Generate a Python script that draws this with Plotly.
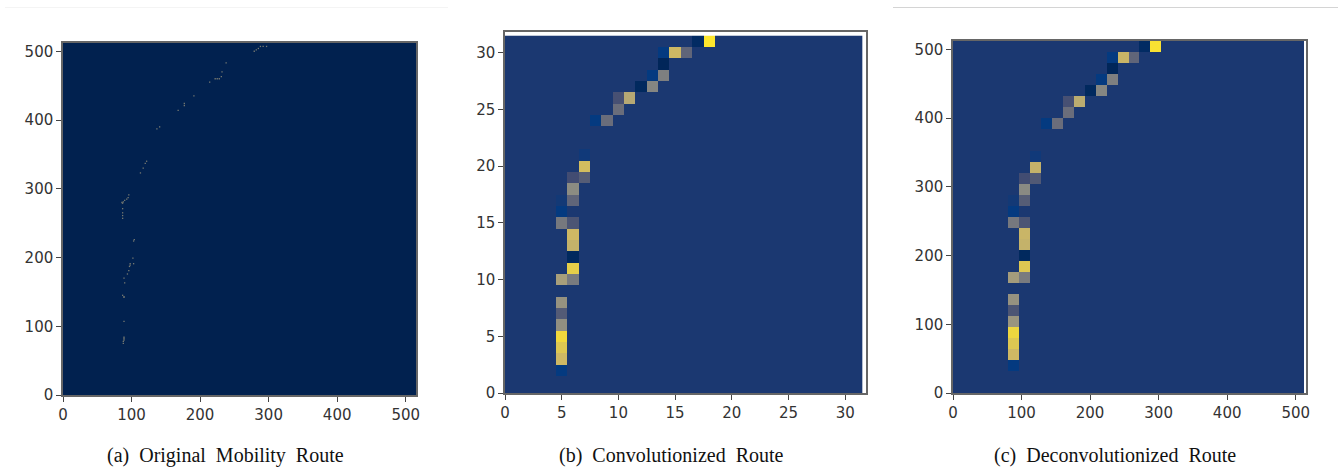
import plotly.graph_objects as go

GRID = 32
FULL = 512
CELL = FULL // GRID

# Panel (a): individual route points (x, y)
route_x = [88, 88, 89, 89, 89, 89, 89, 89, 87, 90, 89, 94, 96, 97, 98, 98, 103, 102, 103, 104,
           87, 87, 87, 87, 87, 86, 88, 90, 93, 95, 96, 113, 117, 120, 122, 137, 141, 168, 177,
           177, 191, 214, 222, 225, 228, 231, 232, 238, 279, 282, 285, 288, 292, 297]
route_y = [75, 78, 80, 82, 84, 107, 142, 143, 145, 163, 170, 176, 181, 187, 189, 191, 191, 199,
           224, 226, 257, 261, 265, 271, 279, 280, 281, 283, 285, 287, 291, 323, 330, 337, 340,
           387, 390, 414, 421, 424, 435, 455, 460, 460, 460, 463, 470, 483, 500, 502, 504, 507, 507, 507]

# Panels (b) and (c): active cells of the 32x32 grid
cell_col = [5, 5, 5, 5, 5, 5, 5, 5, 6, 6, 6, 6, 6, 5, 6, 5, 6, 5, 6, 6, 6, 7, 7, 7,
            8, 9, 10, 10, 11, 12, 13, 13, 14, 14, 14, 15, 16, 17, 18]
cell_row = [2, 3, 4, 5, 6, 7, 8, 10, 10, 11, 12, 13, 14, 15, 15, 16, 17, 17, 18, 19, 19, 19, 20, 21,
            24, 24, 25, 26, 26, 27, 27, 28, 28, 29, 30, 30, 30, 31, 31]
conv_val = [0.10, 0.84, 0.90, 0.97, 0.58, 0.33, 0.60, 0.68, 0.48, 0.93, 0.03, 0.80, 0.84, 0.47, 0.30,
            0.10, 0.38, 0.12, 0.56, 0.26, 0.26, 0.34, 0.86, 0.115,
            0.10, 0.42, 0.42, 0.28, 0.74, 0.03, 0.53, 0.10, 0.50, 0.02, 0.10, 0.84, 0.38, 0.04, 1.00]
deconv_val = [0.10, 0.84, 0.90, 0.96, 0.62, 0.30, 0.60, 0.66, 0.48, 0.90, 0.03, 0.80, 0.82, 0.47, 0.30,
              0.10, 0.34, 0.12, 0.55, 0.26, 0.26, 0.32, 0.80, 0.115,
              0.10, 0.42, 0.42, 0.28, 0.76, 0.03, 0.53, 0.10, 0.50, 0.02, 0.10, 0.82, 0.38, 0.04, 0.99]
BACKGROUND = 0.13

x_ticks_ab = [0, 100, 200, 300, 400, 500]
ticks_b = [0, 5, 10, 15, 20, 25, 30]
captions = ["(a)  Original  Mobility  Route", "(b)  Convolutionized  Route", "(c)  Deconvolutionized  Route"]

# Value -> colour, following the picture's cividis-like map
SCALE = [[0.00, "#00214f"], [0.10, "#043a80"], [0.13, "#1b3871"], [0.20, "#33406e"],
         [0.40, "#65697a"], [0.55, "#8a8a83"], [0.70, "#ada27a"], [0.85, "#d0ba62"],
         [0.97, "#f0d83c"], [1.00, "#fde62d"]]


def grid(values):
    z = [[BACKGROUND] * GRID for _ in range(GRID)]
    for c, r, v in zip(cell_col, cell_row, values):
        z[r][c] = v
    return z


def heat(values, coords, xa, ya):
    return go.Heatmap(z=grid(values), x=coords, y=coords, colorscale=SCALE, zmin=0, zmax=1,
                      showscale=False, xaxis=xa, yaxis=ya, xgap=0, ygap=0)


fig = go.Figure()
bg_a = [0, FULL + 3]
fig.add_trace(go.Heatmap(z=[[0, 0], [0, 0]], x=bg_a, y=bg_a, colorscale=[[0, "#01214f"], [1, "#01214f"]],
                         showscale=False, xaxis="x", yaxis="y"))
fig.add_trace(go.Scatter(x=route_x, y=route_y, mode="markers", xaxis="x", yaxis="y", opacity=0.7,
                         marker=dict(symbol="square", size=1.3, color="#a89f80", line=dict(width=0))))
fig.add_trace(heat(conv_val, list(range(GRID)), "x2", "y2"))
fig.add_trace(heat(deconv_val, [CELL * i + CELL / 2 for i in range(GRID)], "x3", "y3"))

W, H = 1338, 471
axis = dict(showgrid=False, zeroline=False, showline=True, linecolor="#666666", linewidth=1.5, mirror=True,
            ticks="outside", ticklen=5, tickwidth=1, tickcolor="#444444", automargin=False,
            tickfont=dict(family="DejaVu Sans", size=15, color="#333333"))


def xdom(a, b):
    return [a / W, b / W]


def ydom(top, bottom):
    return [1 - bottom / H, 1 - top / H]


fig.update_layout(
    width=W, height=H, autosize=False, margin=dict(l=0, r=0, t=0, b=0, pad=0, autoexpand=False),
    paper_bgcolor="white", plot_bgcolor="white", showlegend=False,
    xaxis=dict(domain=xdom(63, 416), range=[0, 515], tickvals=x_ticks_ab, anchor="y", **axis),
    yaxis=dict(domain=ydom(43, 395), range=[0, 512], tickvals=x_ticks_ab, anchor="x", **axis),
    xaxis2=dict(domain=xdom(505, 866), range=[0, 31.83], tickvals=ticks_b, anchor="y2", **axis),
    yaxis2=dict(domain=ydom(32, 393), range=[0, 31.83], tickvals=ticks_b, anchor="x2", **axis),
    xaxis3=dict(domain=xdom(953, 1306), range=[0, 515], tickvals=x_ticks_ab, anchor="y3", **axis),
    yaxis3=dict(domain=ydom(41, 393), range=[0, 512], tickvals=x_ticks_ab, anchor="x3", **axis),
    annotations=[
        dict(text=t, x=cx / W, y=1 - 455 / H, xref="paper", yref="paper", showarrow=False,
             xanchor="center", yanchor="middle",
             font=dict(family="Liberation Serif", size=20, color="#111111"))
        for t, cx in zip(captions, [225, 671, 1115])
    ],
    shapes=[
        dict(type="line", xref="paper", yref="paper", x0=893 / W, x1=1, y0=1 - 7.5 / H, y1=1 - 7.5 / H,
             line=dict(color="#d4d4d4", width=1)),
        dict(type="line", xref="paper", yref="paper", x0=5 / W, x1=448 / W, y0=1 - 7.5 / H, y1=1 - 7.5 / H,
             line=dict(color="#f4f4f4", width=1)),
    ],
)

fig.write_html("out.html", config={"displayModeBar": False},
               post_script="document.body.style.margin='0';document.body.style.overflow='hidden';")
